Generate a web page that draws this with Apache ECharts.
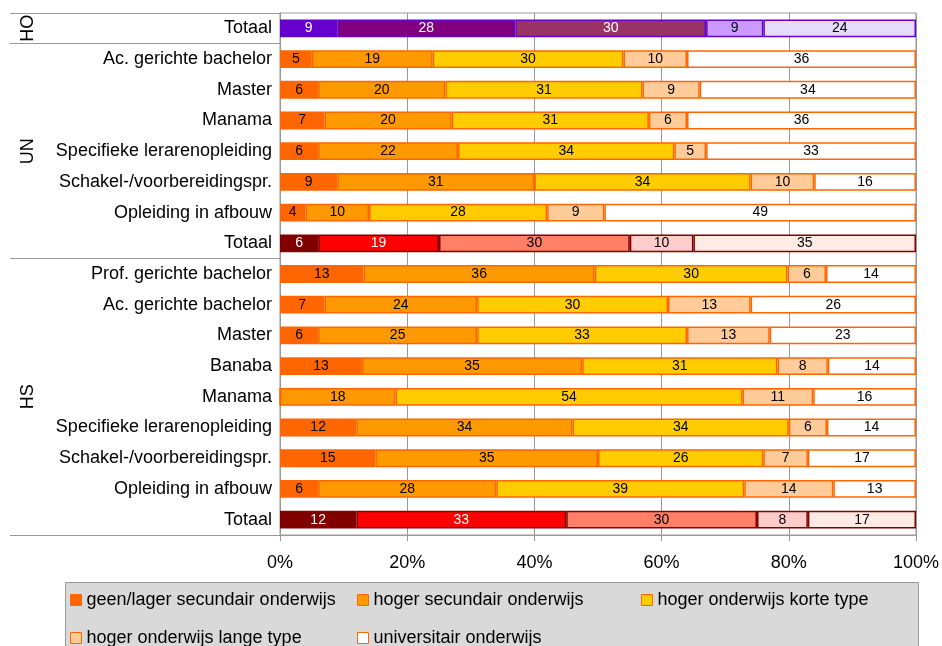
<!DOCTYPE html>
<html><head><meta charset="utf-8">
<script src="https://cdn.jsdelivr.net/npm/echarts@6/dist/echarts.min.js"></script>
<style>html,body{margin:0;padding:0;background:#fff}#c{width:942px;height:646px}</style>
</head><body><div id="c"></div>
<script>
// ---- data ----
const groups = ['HO', 'UN', 'HS'];
const rowGroup = ['HO',
  'UN', 'UN', 'UN', 'UN', 'UN', 'UN', 'UN',
  'HS', 'HS', 'HS', 'HS', 'HS', 'HS', 'HS', 'HS', 'HS'];
const rowLabels = ['Totaal',
  'Ac. gerichte bachelor', 'Master', 'Manama', 'Specifieke lerarenopleiding',
  'Schakel-/voorbereidingspr.', 'Opleiding in afbouw', 'Totaal',
  'Prof. gerichte bachelor', 'Ac. gerichte bachelor', 'Master', 'Banaba', 'Manama',
  'Specifieke lerarenopleiding', 'Schakel-/voorbereidingspr.', 'Opleiding in afbouw', 'Totaal'];
const seriesNames = ['geen/lager secundair onderwijs', 'hoger secundair onderwijs',
  'hoger onderwijs korte type', 'hoger onderwijs lange type', 'universitair onderwijs'];
const geen = [9, 5, 6, 7, 6, 9, 4, 6, 13, 7, 6, 13, 0, 12, 15, 6, 12];
const hosi = [28, 19, 20, 20, 22, 31, 10, 19, 36, 24, 25, 35, 18, 34, 35, 28, 33];
const hokt = [30, 30, 31, 31, 34, 34, 28, 30, 30, 30, 33, 31, 54, 34, 26, 39, 30];
const holt = [9, 10, 9, 6, 5, 10, 9, 10, 6, 13, 13, 8, 11, 6, 7, 14, 8];
const univ = [24, 36, 34, 36, 33, 16, 49, 35, 14, 26, 23, 14, 16, 14, 17, 13, 17];
const xTicks = ['0%', '20%', '40%', '60%', '80%', '100%'];

// ---- styles ----
const FONT = '"Liberation Sans", Arial, sans-serif';
const GRAY = '#999999';
const orange = ['#FF6600', '#FF9900', '#FFCC00', '#FFCC99', '#FFFFFF'];
const purple = ['#6600CC', '#800080', '#993366', '#CC99FF', '#E5DDFF'];
const red = ['#800000', '#FF0000', '#FF8066', '#FFCCCC', '#FFEBE6'];

const raw = [geen, hosi, hokt, holt, univ];
const keys = rowLabels.map((l, i) => rowGroup[i] + '|' + i + '|' + l);
const rowSum = rowLabels.map((_, i) => raw.reduce((s, a) => s + a[i], 0));
function kind(i) {
  if (rowGroup[i] === 'HO') return 'purple';
  if (rowLabels[i] === 'Totaal') return 'red';
  return 'orange';
}
const boundaries = [];
rowGroup.forEach((g, i) => { if (i === 0 || rowGroup[i - 1] !== g) boundaries.push(i); });

const series = raw.map((arr, si) => ({
  name: seriesNames[si],
  type: 'bar',
  stack: 'total',
  barCategoryGap: '42%',
  itemStyle: { color: orange[si], borderColor: '#FF6600', borderWidth: 1.5 },
  label: {
    show: true, position: 'inside', fontSize: 14, fontFamily: FONT, color: '#000',
    formatter: p => (raw[si][p.dataIndex] > 0 ? String(raw[si][p.dataIndex]) : '')
  },
  emphasis: { disabled: true },
  data: arr.map((v, i) => {
    const pct = v / rowSum[i] * 100;
    const k = kind(i);
    if (k === 'orange') return pct;
    const pal = k === 'purple' ? purple : red;
    const white = k === 'purple' ? si < 3 : si < 2;
    return {
      value: pct,
      itemStyle: { color: pal[si], borderColor: pal[0] },
      label: { color: white ? '#fff' : '#000' }
    };
  })
}));

const legendPos = [[70, 591], [357, 591], [641, 591], [70, 629], [357, 629]];
const legends = seriesNames.map((n, i) => ({
  data: [n], left: legendPos[i][0], top: legendPos[i][1],
  icon: 'rect', itemWidth: 11, itemHeight: 11, padding: 0, selectedMode: false,
  textStyle: { fontSize: 18, fontFamily: FONT, color: '#000' },
  itemStyle: { borderColor: '#FF6600', borderWidth: 1 }
}));

const chart = echarts.init(document.getElementById('c'), null, { renderer: 'canvas' });
const option = {
  animation: false,
  backgroundColor: '#fff',
  textStyle: { fontFamily: FONT },
  grid: {
    left: 280, right: 26, top: 13, bottom: 111, containLabel: false, outerBoundsMode: 'none',
    show: true, borderColor: GRAY, borderWidth: 1, backgroundColor: 'transparent'
  },
  xAxis: {
    type: 'value', min: 0, max: 100, interval: 20,
    axisLine: { show: true, lineStyle: { color: GRAY, width: 1 } },
    axisTick: { show: true, length: 6, lineStyle: { color: GRAY } },
    splitLine: { show: true, lineStyle: { color: GRAY, width: 1 } },
    axisLabel: {
      fontSize: 18, fontFamily: FONT, color: '#000', margin: 19,
      formatter: v => xTicks[Math.round(v / 20)]
    }
  },
  yAxis: {
    type: 'category', inverse: true, data: keys,
    axisLine: { show: true, lineStyle: { color: GRAY, width: 1 } },
    axisTick: {
      show: true, length: 270, lineStyle: { color: GRAY, width: 1 },
      interval: (idx) => boundaries.indexOf(idx) >= 0
    },
    axisLabel: {
      fontSize: 18, fontFamily: FONT, color: '#000', margin: 8, interval: 0,
      formatter: v => v.split('|')[2]
    },
    splitLine: { show: false }
  },
  legend: legends,
  graphic: [{
    id: 'legendBox', type: 'rect', z: -1,
    shape: { x: 65.5, y: 582.5, width: 853, height: 90 },
    style: { fill: '#D9D9D9', stroke: GRAY, lineWidth: 1 }
  }],
  series: series
};
chart.setOption(option);

// group labels, positioned through the category axis
const texts = groups.map(g => {
  const idx = rowGroup.map((x, i) => (x === g ? i : -1)).filter(i => i >= 0);
  const y1 = chart.convertToPixel({ yAxisIndex: 0 }, keys[idx[0]]);
  const y2 = chart.convertToPixel({ yAxisIndex: 0 }, keys[idx[idx.length - 1]]);
  return {
    id: 'grp' + g, type: 'text', x: 28, y: (y1 + y2) / 2, rotation: Math.PI / 2,
    style: { text: g, fontSize: 18, fontFamily: FONT, fill: '#000', align: 'center', verticalAlign: 'middle' }
  };
});
chart.setOption({ graphic: texts });
</script>
</body></html>
